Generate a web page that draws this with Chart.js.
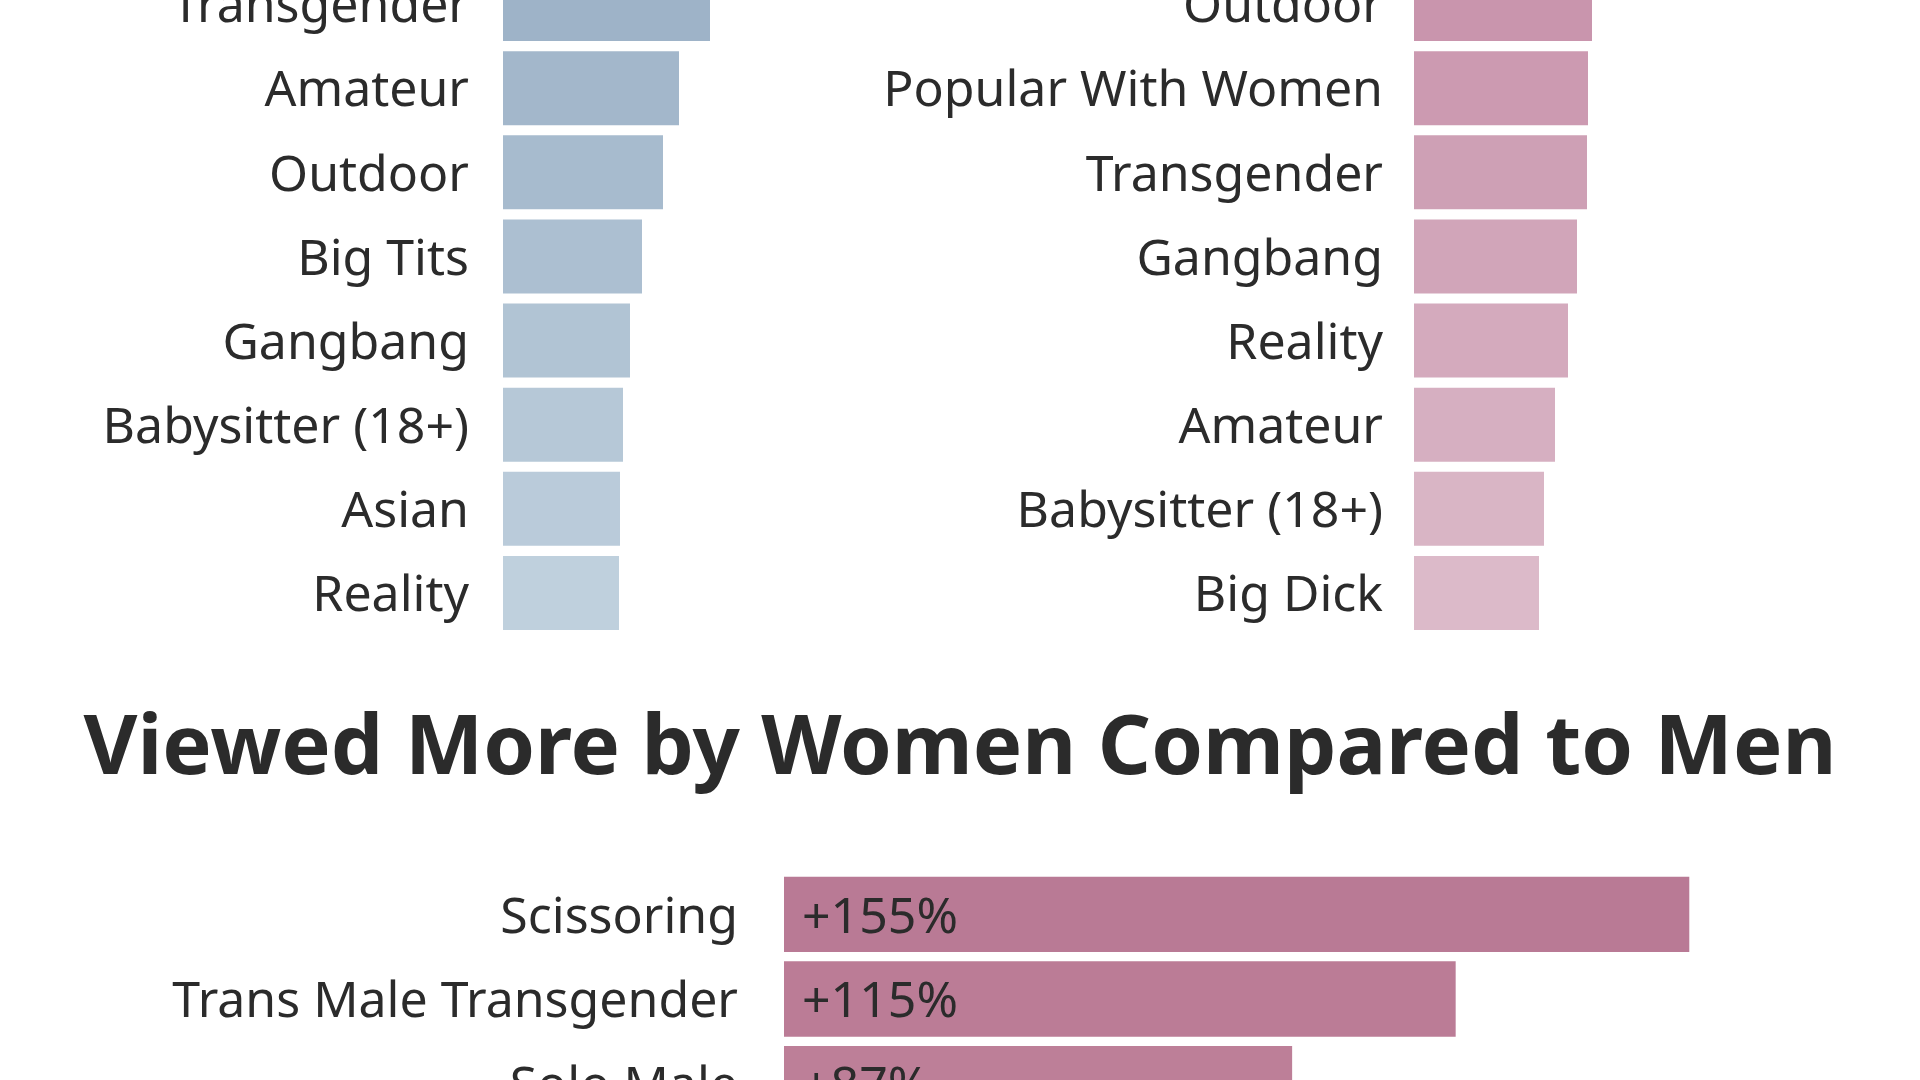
<!DOCTYPE html>
<html>
<head>
<meta charset="utf-8">
<script src="https://cdn.jsdelivr.net/npm/chart.js@4.4.1/dist/chart.umd.min.js"></script>
<style>
  html, body { margin: 0; padding: 0; background: #fff; }
  body { width: 1920px; height: 1080px; overflow: hidden; position: relative; }
  .box { position: absolute; }
  #menBox { left: 0; top: -38px; width: 953px; height: 673px; }
  #womenBox { left: 800px; top: -38px; width: 1064px; height: 673px; }
  #moreBox { left: 0; top: 872px; width: 1920px; height: 254px; }
  .title {
    position: absolute; left: 0; top: 700px; width: 1920px;
    text-align: center; font-family: "Noto Sans", sans-serif; font-weight: 700;
    font-size: 83px; line-height: 83px; color: #2b2b2b;
  }
</style>
</head>
<body>
<div class="box" id="menBox"><canvas id="menChart"></canvas></div>
<div class="box" id="womenBox"><canvas id="womenChart"></canvas></div>
<div class="title">Viewed More by Women Compared to Men</div>
<div class="box" id="moreBox"><canvas id="moreChart"></canvas></div>

<script>
// top categories, men (relative index)
const menLabels = ['Transgender', 'Amateur', 'Outdoor', 'Big Tits', 'Gangbang', 'Babysitter (18+)', 'Asian', 'Reality'];
const menValues = [20.7, 17.6, 16.0, 13.9, 12.7, 12.0, 11.7, 11.6];

// top categories, women
const womenLabels = ['Outdoor', 'Popular With Women', 'Transgender', 'Gangbang', 'Reality', 'Amateur', 'Babysitter (18+)', 'Big Dick'];
const womenValues = [17.8, 17.4, 17.3, 16.3, 15.4, 14.1, 13.0, 12.5];

// viewed more by women compared to men (%)
const moreLabels = ['Scissoring', 'Trans Male Transgender', 'Solo Male'];
const moreValues = [155, 115, 87];

// bar colours (fade from top to bottom)
const menColors = ['#9eb3c8', '#a3b7cb', '#a7bbce', '#acbfd1', '#b1c4d4', '#b6c8d7', '#bacbda', '#bfd0dd'];
const womenColors = ['#c995ad', '#cc9ab1', '#cea0b5', '#d1a5b9', '#d4aabd', '#d6afc1', '#d9b5c5', '#dcbac9'];
const moreColors = ['#b97a95', '#bb7c96', '#bd7f98'];

const textColor = '#2b2b2b';
const fontFamily = '"Noto Sans", sans-serif';

// value labels inside the bars
const valueLabelPlugin = {
  id: 'valueLabels',
  afterDatasetsDraw(chart) {
    if (!chart.options.plugins.valueLabels) return;
    const ctx = chart.ctx;
    const meta = chart.getDatasetMeta(0);
    ctx.save();
    ctx.font = '50px ' + fontFamily;
    ctx.fillStyle = textColor;
    ctx.textAlign = 'left';
    ctx.textBaseline = 'middle';
    meta.data.forEach((bar, i) => {
      ctx.fillText('+' + chart.data.datasets[0].data[i] + '%', bar.base + 18, bar.y + 4);
    });
    ctx.restore();
  }
};

function makeChart(id, labels, values, colors, opts) {
  return new Chart(document.getElementById(id), {
    type: 'bar',
    data: {
      labels: labels,
      datasets: [{
        data: values,
        backgroundColor: colors,
        borderWidth: 0,
        barPercentage: opts.barPct,
        categoryPercentage: 1
      }]
    },
    options: {
      indexAxis: 'y',
      responsive: true,
      maintainAspectRatio: false,
      animation: false,
      layout: { padding: 0 },
      plugins: {
        legend: { display: false },
        tooltip: { enabled: false },
        valueLabels: !!opts.valueLabels
      },
      scales: {
        x: { display: false, min: 0, max: opts.max },
        y: {
          grid: { display: false, drawTicks: false },
          border: { display: false },
          afterFit: (scale) => {
            // fixed gutter for the labels, no extra room above/below
            scale.width = opts.axisWidth;
            scale.paddingTop = 0;
            scale.paddingBottom = 0;
          },
          ticks: {
            autoSkip: false,
            padding: opts.pad,
            labelOffset: 4,
            color: textColor,
            font: { family: fontFamily, size: 50, weight: 400 }
          }
        }
      }
    },
    plugins: [valueLabelPlugin]
  });
}

makeChart('menChart', menLabels, menValues, menColors, { max: 45, axisWidth: 503, pad: 34, barPct: 0.88 });
makeChart('womenChart', womenLabels, womenValues, womenColors, { max: 45, axisWidth: 614, pad: 31, barPct: 0.88 });
makeChart('moreChart', moreLabels, moreValues, moreColors, { max: 194.5, axisWidth: 784, pad: 46, barPct: 0.89, valueLabels: true });
</script>
</body>
</html>
